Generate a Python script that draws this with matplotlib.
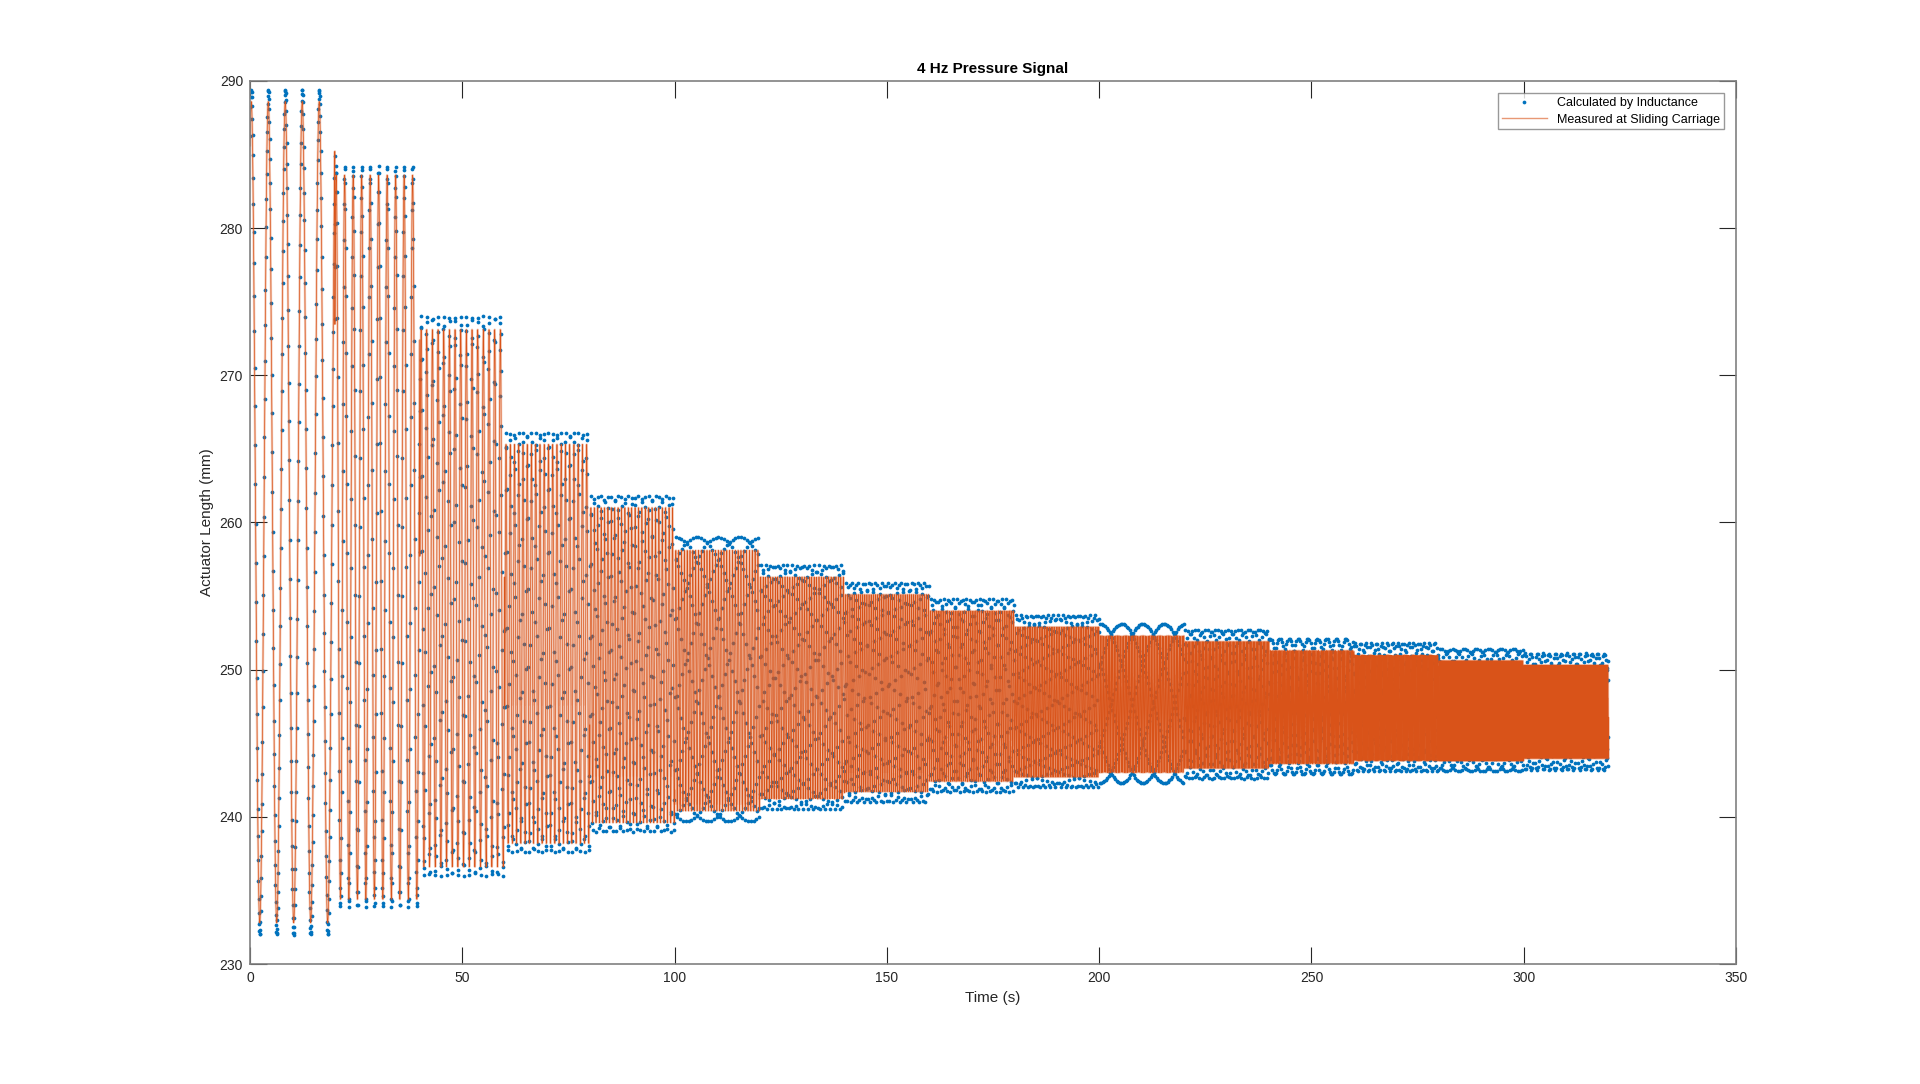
import numpy as np
import matplotlib
matplotlib.use('Agg')
import matplotlib.pyplot as plt
from matplotlib.collections import LineCollection
from matplotlib.lines import Line2D

# 16 steps of 20 s, drive frequency rising by 0.25 Hz per step up to 4 Hz
seg_start = np.arange(0, 320, 20)
seg_freq = [0.25, 0.5, 0.75, 1.0, 1.25, 1.5, 1.75, 2.0,
            2.25, 2.5, 2.75, 3.0, 3.25, 3.5, 3.75, 4.0]

# envelope of the measured length (mm), read per step
meas_hi = [288.6, 283.6, 273.1, 265.3, 261.0, 258.1, 256.3, 255.1,
           254.0, 252.9, 252.3, 251.9, 251.3, 251.0, 250.6, 250.3]
meas_lo = [232.8, 234.4, 236.6, 238.2, 239.6, 240.4, 241.2, 241.7,
           242.4, 242.7, 243.0, 243.3, 243.6, 243.8, 243.8, 243.9]

# envelope of the inductance estimate (mm), read per step
ind_hi = [289.4, 284.2, 274.0, 266.1, 261.8, 259.0, 257.1, 255.9,
          254.8, 253.7, 253.1, 252.7, 252.1, 251.8, 251.4, 251.1]
ind_lo = [232.0, 233.9, 236.0, 237.6, 239.0, 239.7, 240.5, 241.0,
          241.7, 242.0, 242.3, 242.6, 242.9, 243.1, 243.1, 243.2]

x_ticks = [0, 50, 100, 150, 200, 250, 300, 350]
y_ticks = [230, 240, 250, 260, 270, 280, 290]


def build_signal(t, hi, lo):
    y = np.empty_like(t)
    for i, t0 in enumerate(seg_start):
        m = (t >= t0) & (t < t0 + 20)
        mid = (hi[i] + lo[i]) / 2
        amp = (hi[i] - lo[i]) / 2
        y[m] = mid + amp * np.cos(2 * np.pi * seg_freq[i] * (t[m] - t0 - 0.3))
    return y


t_meas = np.arange(0, 320, 1 / 60)
t_ind = np.arange(0, 320, 1 / 16.7)
y_meas = build_signal(t_meas, meas_hi, meas_lo)
y_ind = build_signal(t_ind, ind_hi, ind_lo)

# split the measured trace into single cycles so that overlapping cycles build up colour
bounds = []
for i, t0 in enumerate(seg_start):
    n = int(round(20 * seg_freq[i]))
    bounds.extend(t0 + np.arange(n) / seg_freq[i])
bounds.append(320)
idx = np.searchsorted(t_meas, bounds)
cycles = [np.column_stack([t_meas[a:b + 1], y_meas[a:b + 1]])
          for a, b in zip(idx[:-1], idx[1:])]

plt.rcParams['font.family'] = ['Liberation Sans', 'DejaVu Sans']

fig = plt.figure(figsize=(19.2, 10.84), dpi=100)
ax = fig.add_axes([0.1302, 0.1107, 0.774, 0.8146])

dots, = ax.plot(t_ind, y_ind, 'o', color='#0072BD', markersize=2.7, markeredgewidth=0)
halo = LineCollection(cycles, colors='#D95319', linewidths=1.7, alpha=0.3)
ax.add_collection(halo)
ax.plot(t_meas, y_meas, '-', color='#D95319', linewidth=0.5)

ax.set_xlim(0, 350)
ax.set_ylim(230, 290)
ax.set_xticks(x_ticks)
ax.set_yticks(y_ticks)
ax.tick_params(direction='in', length=12, width=0.8, color='#262626',
               labelsize=10, labelcolor='#262626', top=True, right=True, pad=5)
for s in ax.spines.values():
    s.set_color('#808080')
    s.set_linewidth(1.2)

ax.set_title('4 Hz Pressure Signal', fontsize=11, fontweight='bold', color='#000000', pad=6)
ax.set_xlabel('Time (s)', fontsize=11, color='#262626')
ax.set_ylabel('Actuator Length (mm)', fontsize=11, color='#262626')

line_handle = Line2D([], [], color='#D95319', alpha=0.6, linewidth=1.0)
leg = ax.legend([dots, line_handle],
                ['Calculated by Inductance', 'Measured at Sliding Carriage'],
                loc='upper right', fontsize=9, frameon=True, fancybox=False,
                borderpad=0.3, labelspacing=0.35, handlelength=3.6,
                handletextpad=0.8, borderaxespad=1.0)
leg.get_frame().set_edgecolor('#808080')
leg.get_frame().set_linewidth(1.0)

fig.savefig('out.png', dpi=100)
